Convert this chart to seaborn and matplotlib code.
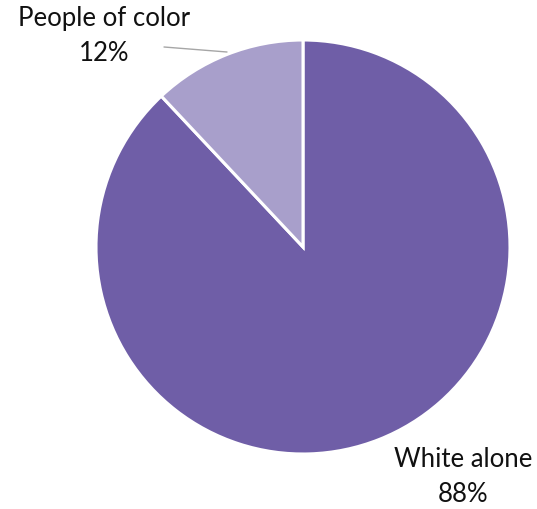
import matplotlib
matplotlib.use("Agg")
import matplotlib.pyplot as plt
import seaborn as sns

# Share of population by race
groups = ["White alone", "People of color"]
shares = [88, 12]
colors = ["#6F5EA7", "#A89FCB"]

sns.set_theme(style="white")
plt.rcParams["font.family"] = ["Lato", "DejaVu Sans"]

W, H = 537, 510
fig = plt.figure(figsize=(W / 100, H / 100), dpi=100)
ax = fig.add_axes([0, 0, 1, 1])

cx, cy, r = 303, H - 248, 207
ax.pie(
    shares,
    colors=colors,
    startangle=90,
    counterclock=False,
    center=(cx, cy),
    radius=r,
    wedgeprops=dict(edgecolor="white", linewidth=2.2),
    frame=True,
)
ax.set_xlim(0, W)
ax.set_ylim(0, H)
ax.set_aspect("equal")
ax.axis("off")

# labels
ax.text(104, H - 36, f"{groups[1]}\n{shares[1]}%", ha="center", va="center",
        fontsize=18.5, color="#111111", linespacing=1.5)
ax.plot([164, 227], [H - 48, H - 53], color="#A6A6A6", linewidth=1)
ax.text(463, H - 477, f"{groups[0]}\n{shares[0]}%", ha="center", va="center",
        fontsize=18.5, color="#111111", linespacing=1.5)

fig.savefig("out.png", dpi=100, facecolor="white")
